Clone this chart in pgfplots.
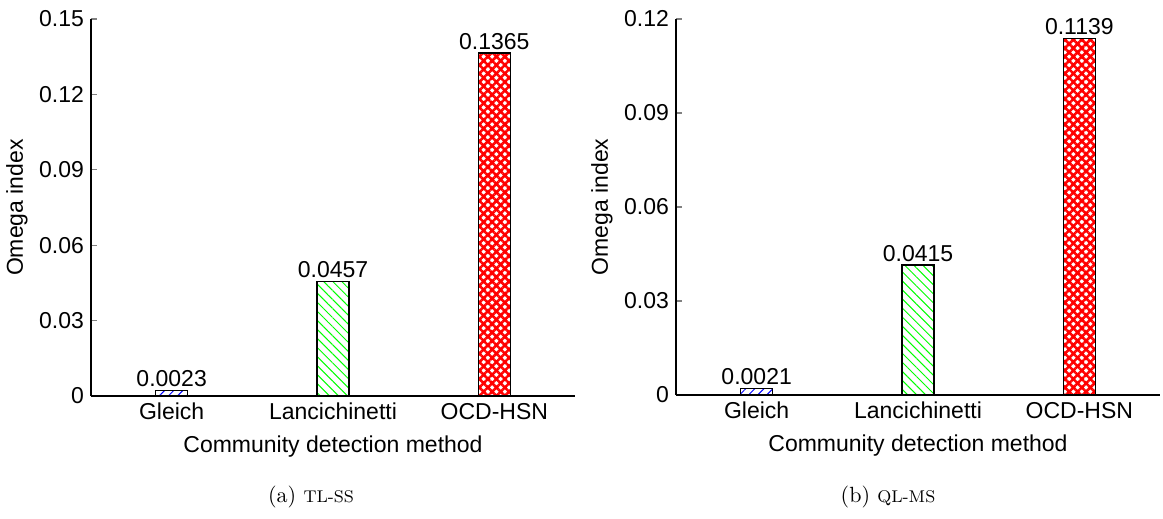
\documentclass[border=0pt]{standalone}
\usepackage{fontspec}
\setmainfont{Liberation Sans}
\newfontfamily\lmfont{Latin Modern Roman}
\usepackage{pgfplots}
\pgfplotsset{compat=1.18}
\usetikzlibrary{patterns.meta}
\definecolor{mblue}{RGB}{0,0,255}
\definecolor{mgreen}{RGB}{0,255,0}
\definecolor{mred}{RGB}{255,0,0}
\pgfplotsset{
  mystyle/.style={
    scale only axis,
    width=242pt, height=188.5pt,
    anchor=south west,
    axis lines*=left,
    ybar, bar width=16pt,
    xmin=0.5, xmax=3.5, ymin=0,
    xtick={1,2,3},
    xticklabels={Gleich,Lancichinetti,OCD-HSN},
    xtick style={draw=none},
    tick align=inside,
    major tick length=3pt,
    axis line style={line width=0.6pt},
    ytick style={line width=0.6pt},
    font=\fontsize{11.5}{13}\selectfont,
    ticklabel style={font=\fontsize{11.5}{13}\selectfont},
    every axis y label/.style={at={(axis description cs:-0.153,0.5)}, rotate=90, anchor=center},
    every axis x label/.style={at={(axis description cs:0.5,0)}, anchor=center, yshift=-25.5pt},
    xlabel={Community detection method},
    ylabel={Omega index},
    clip=false,
    point meta=explicit symbolic,
    nodes near coords,
    every node near coord/.style={font=\fontsize{11.5}{13}\selectfont, inner sep=1.5pt, black},
  },
}
\begin{document}
\begin{tikzpicture}
\path[use as bounding box] (0,0) rectangle (581.5pt,-259.5pt);
\begin{axis}[mystyle, at={(45.5pt,-198pt)}, ymax=0.15,
  ytick={0,0.03,0.06,0.09,0.12,0.15},
  yticklabels={0,0.03,0.06,0.09,0.12,0.15}]
\addplot[bar shift=0pt, draw=black, line width=0.6pt, pattern={Lines[angle=45,distance=3.2pt,line width=0.5pt]}, pattern color=mblue] coordinates {(1,0.0023) [0.0023]};
\addplot[bar shift=0pt, draw=black, line width=0.6pt, pattern={Lines[angle=-45,distance=3.2pt,line width=0.5pt]}, pattern color=mgreen] coordinates {(2,0.0457) [0.0457]};
\addplot[bar shift=0pt, draw=black, line width=0.6pt, pattern={Hatch[angle=45,distance=3pt,line width=1.3pt]}, pattern color=mred] coordinates {(3,0.1365) [0.1365]};
\end{axis}
\begin{axis}[mystyle, at={(338pt,-197.5pt)}, ymax=0.12, height=188pt,
  ytick={0,0.03,0.06,0.09,0.12},
  yticklabels={0,0.03,0.06,0.09,0.12}]
\addplot[bar shift=0pt, draw=black, line width=0.6pt, pattern={Lines[angle=45,distance=3.2pt,line width=0.5pt]}, pattern color=mblue] coordinates {(1,0.0021) [0.0021]};
\addplot[bar shift=0pt, draw=black, line width=0.6pt, pattern={Lines[angle=-45,distance=3.2pt,line width=0.5pt]}, pattern color=mgreen] coordinates {(2,0.0415) [0.0415]};
\addplot[bar shift=0pt, draw=black, line width=0.6pt, pattern={Hatch[angle=45,distance=3pt,line width=1.3pt]}, pattern color=mred] coordinates {(3,0.1139) [0.1139]};
\end{axis}
\node[font=\lmfont\fontsize{11}{13}\selectfont] at (155.5pt,-248.5pt) {(a)\ {\fontsize{8.5}{10}\selectfont TL-SS}};
\node[font=\lmfont\fontsize{11}{13}\selectfont] at (444pt,-248.5pt) {(b)\ {\fontsize{8.5}{10}\selectfont QL-MS}};
\end{tikzpicture}
\end{document}
